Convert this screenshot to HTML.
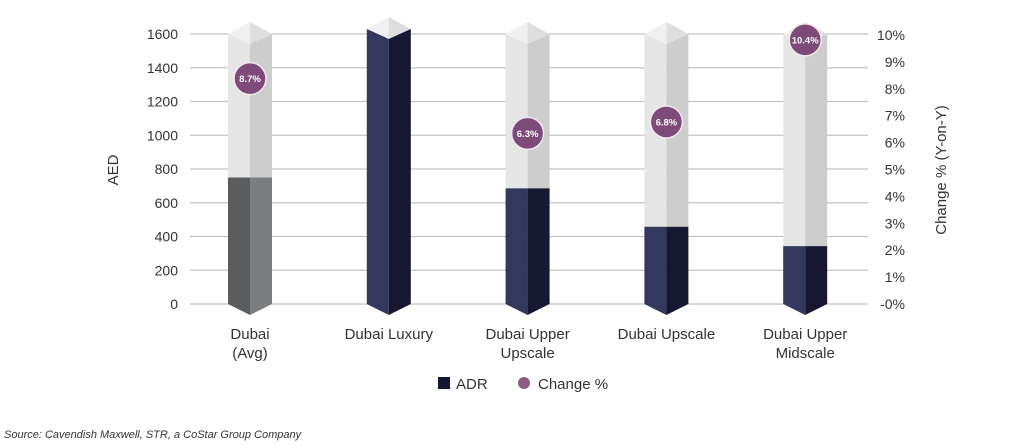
<!DOCTYPE html>
<html><head><meta charset="utf-8"><style>
html,body{margin:0;padding:0;background:#fff;width:1024px;height:448px;overflow:hidden}
svg{display:block;font-family:"Liberation Sans",sans-serif}
</style></head><body>
<svg id="chart" width="1024" height="448" viewBox="0 0 1024 448"></svg>
<script>
const categories = [["Dubai","(Avg)"],["Dubai Luxury"],["Dubai Upper","Upscale"],["Dubai Upscale"],["Dubai Upper","Midscale"]];
const adrValues = [750, 1630, 685, 458, 343];
const changeValues = [8.7, null, 6.3, 6.8, 10.4];
const changeLabels = ["8.7%", "", "6.3%", "6.8%", "10.4%"];
const leftTicks = [0,200,400,600,800,1000,1200,1400,1600];
const rightTicks = [0,1,2,3,4,5,6,7,8,9,10];
const rightTickLabels = ["-0%","1%","2%","3%","4%","5%","6%","7%","8%","9%","10%"];

const svg = document.getElementById('chart');
const NS = 'http://www.w3.org/2000/svg';
const y0 = 304, yTop = 34, plotL = 190, plotR = 868;
const yL = v => y0 - (v/1600)*(y0-yTop);
const yR = v => y0 - (v/10)*(y0-35);
const yB = v => 277 - v*22.8;
const xC = i => 250 + i*138.8;
const hw = 22;
function mk(tag, attrs, text){const e=document.createElementNS(NS,tag);for(const k in attrs)e.setAttribute(k,attrs[k]);if(text!==undefined)e.textContent=text;svg.appendChild(e);return e;}

leftTicks.forEach(t=>{
  const g=mk('line',{x1:plotL,x2:plotR,y1:yL(t),y2:yL(t),stroke:'#c4c4c4','stroke-width':1.2});
  
  
  const l=mk('text',{x:178,y:yL(t)+5,'text-anchor':'end','font-size':14,fill:'#333'},String(t));
  
  
});
rightTicks.forEach((t,i)=>{
  const l=mk('text',{x:905,y:yR(t)+5,'text-anchor':'end','font-size':14,fill:'#333'},rightTickLabels[i]);
  
  
});
const at=mk('text',{x:118,y:170,'text-anchor':'middle','font-size':15,fill:'#333',transform:'rotate(-90 118 170)'},'AED');


const rt=mk('text',{x:946,y:170,'text-anchor':'middle','font-size':15,fill:'#333',transform:'rotate(-90 946 170)'},'Change % (Y-on-Y)');



categories.forEach((c,i)=>{
  const x=xC(i), yt=yL(1600), ya=yL(adrValues[i]);
  const avg = i===0;
  const cl = avg?'#5b5c5e':'#33385d', cr = avg?'#7b7d7e':'#161832';
  const bg=mk('polygon',{points:`${x-hw},${yt} ${x},${yt+10} ${x},${ya} ${x-hw},${ya}`,fill:'#e6e6e6'});
  
  
  mk('polygon',{points:`${x},${yt+10} ${x+hw},${yt} ${x+hw},${ya} ${x},${ya}`,fill:'#cdcdcd'});
  const top = Math.min(yt, ya);
  mk('polygon',{points:`${x-hw},${top} ${x},${top-12} ${x},${top+10}`,fill:'#f0f0f0'});
  mk('polygon',{points:`${x},${top-12} ${x+hw},${top} ${x},${top+10}`,fill:'#dedede'});
  const topL = ya, topC = adrValues[i]>1600 ? ya+10 : ya;
  const b=mk('polygon',{points:`${x-hw},${topL} ${x},${topC} ${x},${y0+11} ${x-hw},${y0}`,fill:cl});
  
  
  mk('polygon',{points:`${x},${topC} ${x+hw},${topL} ${x+hw},${y0} ${x},${y0+11}`,fill:cr});
  c.forEach((ln,j)=>{
    const t=mk('text',{x:x,y:339+j*19,'text-anchor':'middle','font-size':15,fill:'#333'},ln);
    
    
  });
  if(changeValues[i]!==null){
    const cy = Math.max(yB(changeValues[i]), 34);
    const ci=mk('circle',{cx:x,cy:cy,r:16,fill:'#7d4a7a',stroke:'#f3e8f0','stroke-width':1.5});
    
    
    const ct=mk('text',{x:x,y:cy+3.5,'text-anchor':'middle','font-size':9.5,'font-weight':'bold',fill:'#fff'},changeLabels[i]);
    
    
  }
});
const ls=mk('rect',{x:438,y:377,width:12,height:12,fill:'#151731'});


const lt=mk('text',{x:456,y:389,'font-size':15,fill:'#333'},'ADR');


const lc=mk('circle',{cx:524,cy:383,r:6,fill:'#8a5b84'});


const lt2=mk('text',{x:538,y:389,'font-size':15,fill:'#333'},'Change %');


const src=mk('text',{x:4,y:438,'font-size':11,'font-style':'italic',fill:'#333'},'Source: Cavendish Maxwell, STR, a CoStar Group Company');


</script>
</body></html>
